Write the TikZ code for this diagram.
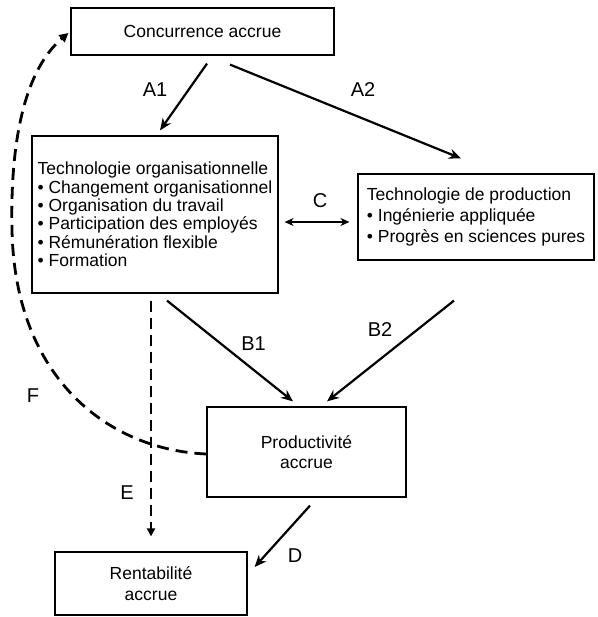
\documentclass[tikz,border=0pt]{standalone}
\usepackage{fontspec}
\setmainfont{Liberation Sans}
\usetikzlibrary{arrows.meta,calc}
\begin{document}
\begin{tikzpicture}[x=1pt,y=-1pt,
  box/.style={draw,line width=1.2pt,inner sep=0pt,font=\fontsize{17.5}{20.5}\selectfont},
  lab/.style={font=\fontsize{20}{24}\selectfont,inner sep=0pt},
  arr/.style={line width=2.2pt,-{Stealth[length=12pt,width=10pt]}},
  darr/.style={line width=2.2pt,{Stealth[length=9pt,width=8pt]}-{Stealth[length=9pt,width=8pt]}},
  edash/.style={line width=2.6pt,dash pattern=on 11pt off 6pt,-{Triangle[length=8pt,width=8pt]}},
  fdash/.style={line width=2.8pt,dash pattern=on 12pt off 7pt,-{Triangle[length=9pt,width=9pt]}}]
\useasboundingbox (0,0) rectangle (597,617);
\fill[white] (0,0) rectangle (597,617);

\node[box,minimum width=263pt,minimum height=47pt] (conc) at (202.5,31.5) {Concurrence accrue};
\node[box,minimum width=246pt,minimum height=157pt,align=left,font=\fontsize{17.5}{18.4}\selectfont] (org) at (155,214.5)
  {Technologie organisationnelle\\
   • Changement organisationnel\\
   • Organisation du travail\\
   • Participation des employés\\
   • Rémunération flexible\\
   • Formation};
\node[box,minimum width=236pt,minimum height=86pt,align=left,font=\fontsize{17.5}{21}\selectfont] (prod) at (476,217)
  {Technologie de production\\
   • Ingénierie appliquée\\
   • Progrès en sciences pures};
\node[box,minimum width=199pt,minimum height=90pt,align=center] (pa) at (306.5,452) {Productivité\\accrue};
\node[box,minimum width=192pt,minimum height=63pt,align=center] (rent) at (151,583.5) {Rentabilité\\accrue};

\draw[arr] ($(conc.south)+(4.5,8)$) -- ($(org.north)+(5,-5)$);
\draw[arr] ($(conc.south)+(27.5,9)$) -- ($(prod.north)+(-15,-15)$);
\draw[darr] ($(org.east)+(6,7.5)$) -- ($(prod.west)+(-8,5)$);
\draw[arr] ($(org.south)+(12,7)$) -- ($(pa.north)+(-13.5,-5)$);
\draw[arr] ($(prod.south)+(-22,40)$) -- ($(pa.north)+(20.5,-5)$);
\draw[arr] ($(pa.south)+(3.5,8)$) -- ($(rent.east)+(7,-16.5)$);
\draw[edash] ($(org.south)+(-4,7)$) -- ($(rent.north)+(0,-15)$);
\draw[fdash] ($(pa.west)+(0,2)$) .. controls (110,450) and (15,380) .. (12,230)
  .. controls (10,140) and (25,70) .. ($(conc.west)+(-2,1.5)$);

\node[lab] (lA1) at (155,90) {A1};
\node[lab] (lA2) at (363,90) {A2};
\node[lab] (lC) at (320,201) {C};
\node[lab] (lB1) at (253.5,344) {B1};
\node[lab] (lB2) at (380,330) {B2};
\node[lab] (lD) at (295,556) {D};
\node[lab] (lE) at (127,493) {E};
\node[lab] (lF) at (33,395.5) {F};
\end{tikzpicture}
\end{document}
